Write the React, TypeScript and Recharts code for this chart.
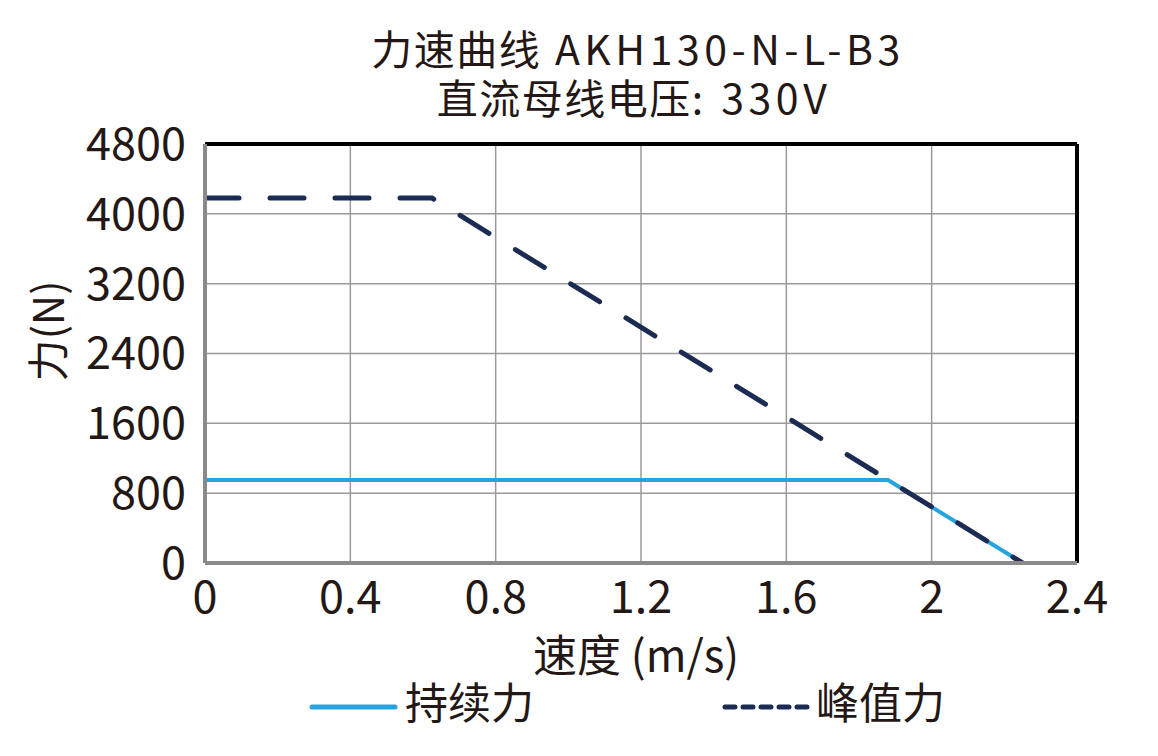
import { LineChart, Line, XAxis, YAxis, CartesianGrid, ReferenceLine } from "recharts";

// speed (m/s) / force (N)
const contSpeed = [0, 1.88, 2.25];
const contForce = [950, 950, 0];
const peakSpeed = [0, 0.625, 2.25];
const peakForce = [4180, 4180, 0];

const xTicks = [0, 0.4, 0.8, 1.2, 1.6, 2, 2.4];
const yTicks = [0, 800, 1600, 2400, 3200, 4000, 4800];

// title lines split into CJK part and Latin part
const titleLine1 = ["力速曲线", " AKH130-N-L-B3"];
const titleLine2 = ["直流母线电压", ": 330V"];
const xLabel = "速度 (m/s)";
const yLabel = "力(N)";
const contName = "持续力";
const peakName = "峰值力";

const contData = contSpeed.map((x, i) => ({ x, y: contForce[i] }));
const peakData = peakSpeed.map((x, i) => ({ x, y: peakForce[i] }));

const FONT = '"Noto Sans CJK SC", "Noto Sans", sans-serif';
const INK = "#231815";
const CONT = "#27a4dd";
const PEAK = "#1b2b52";

const W = 1158;
const H = 756;

export default function App() {
  const tickStyle = { fill: INK, fontSize: 45, fontFamily: FONT };
  return (
    <div style={{ position: "relative", width: W, height: H, margin: -8, background: "#fff" }}>
      <LineChart width={W} height={H} margin={{ top: 144, right: 81, left: 0, bottom: 0 }}>
        <CartesianGrid stroke="#9a9a9a" strokeWidth={1.5} />
        <XAxis
          type="number"
          dataKey="x"
          domain={[0, 2.4]}
          ticks={xTicks}
          height={193}
          tickLine={false}
          tickSize={6}
          tickMargin={12}
          axisLine={{ stroke: "#8a8a8a", strokeWidth: 4 }}
          tick={tickStyle}
          tickFormatter={(v) => String(v)}
          allowDataOverflow
        />
        <YAxis
          type="number"
          dataKey="y"
          domain={[0, 4800]}
          ticks={yTicks}
          width={205}
          tickLine={false}
          tickSize={6}
          tickMargin={13}
          axisLine={{ stroke: "#8a8a8a", strokeWidth: 4 }}
          tick={tickStyle}
          allowDataOverflow
        />
        <ReferenceLine y={4800} stroke="#000" strokeWidth={4} />
        <ReferenceLine x={2.4} stroke="#000" strokeWidth={4} />
        <Line
          data={contData}
          dataKey="y"
          type="linear"
          stroke={CONT}
          strokeWidth={4}
          dot={false}
          isAnimationActive={false}
        />
        <Line
          data={peakData}
          dataKey="y"
          type="linear"
          stroke={PEAK}
          strokeWidth={5}
          strokeDasharray="34 31"
          strokeLinecap="round"
          dot={false}
          isAnimationActive={false}
        />
      </LineChart>
      <svg
        width={W}
        height={H}
        style={{ position: "absolute", left: 0, top: 0, pointerEvents: "none" }}
        fontFamily={FONT}
        fill={INK}
      >
        <text x={638} y={47} fontSize={41} textAnchor="middle" dominantBaseline="central">
          <tspan letterSpacing={1.5}>{titleLine1[0]}</tspan>
          <tspan letterSpacing={4.5}>{titleLine1[1]}</tspan>
        </text>
        <text x={634} y={96} fontSize={41} textAnchor="middle" dominantBaseline="central">
          <tspan letterSpacing={1.5}>{titleLine2[0]}</tspan>
          <tspan letterSpacing={4.5}>{titleLine2[1]}</tspan>
        </text>
        <text
          x={45}
          y={331}
          fontSize={42}
          textAnchor="middle"
          dominantBaseline="central"
          transform="rotate(-90 45 331)"
        >
          {yLabel}
        </text>
        <text x={636} y={653} fontSize={44} textAnchor="middle" dominantBaseline="central">
          {xLabel}
        </text>
        <line x1={312} y1={707} x2={395} y2={707} stroke={CONT} strokeWidth={5} strokeLinecap="round" />
        <text x={405} y={700} fontSize={43} dominantBaseline="central">
          {contName}
        </text>
        <line
          x1={725}
          y1={707}
          x2={808}
          y2={707}
          stroke={PEAK}
          strokeWidth={5}
          strokeDasharray="10 8"
          strokeLinecap="round"
        />
        <text x={816} y={700} fontSize={43} dominantBaseline="central">
          {peakName}
        </text>
      </svg>
    </div>
  );
}
